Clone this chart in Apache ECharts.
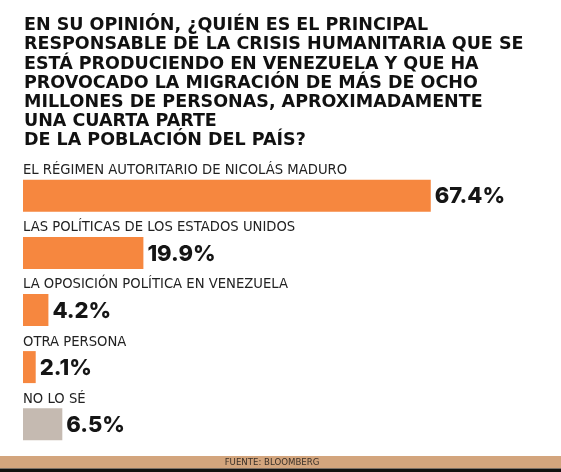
<!DOCTYPE html>
<html lang="es">
<head>
    <meta charset="UTF-8">
    <title>Responsable de la crisis humanitaria</title>
    <script type="text/javascript" src="https://cdn.jsdelivr.net/npm/echarts@6/dist/echarts.min.js"></script>
    <style>
        html, body { margin: 0; padding: 0; background: #fff; }
        #charts { width: 561px; height: 472px; }
    </style>
</head>
<body>
<div id="charts"></div>
<script>
    // datos de la encuesta
    var categorias = [
        "EL RÉGIMEN AUTORITARIO DE NICOLÁS MADURO",
        "LAS POLÍTICAS DE LOS ESTADOS UNIDOS",
        "LA OPOSICIÓN POLÍTICA EN VENEZUELA",
        "OTRA PERSONA",
        "NO LO SÉ"
    ]
    var porcentajes = [67.4, 19.9, 4.2, 2.1, 6.5]
    var titulo = [
        "EN SU OPINIÓN, ¿QUIÉN ES EL PRINCIPAL",
        "RESPONSABLE DE LA CRISIS HUMANITARIA QUE SE",
        "ESTÁ PRODUCIENDO EN VENEZUELA Y QUE HA",
        "PROVOCADO LA MIGRACIÓN DE MÁS DE OCHO",
        "MILLONES DE PERSONAS, APROXIMADAMENTE",
        "UNA CUARTA PARTE",
        "DE LA POBLACIÓN DEL PAÍS?"
    ]
    var fuente = "FUENTE: BLOOMBERG"

    var naranja = "#f6873f"
    var gris = "#c5bab1"

    var chart = echarts.init(document.getElementById("charts"), null, {renderer: 'canvas'});
    chart.setOption({
        animation: false,
        backgroundColor: "#fff",
        title: {
            text: titulo.join("\n"),
            left: 24,
            top: 16,
            padding: 0,
            textStyle: {
                fontFamily: "DejaVu Sans",
                fontWeight: "bold",
                fontSize: 17.5,
                lineHeight: 19.2,
                color: "#111"
            }
        },
        grid: {left: 23, right: 54, top: 167.25, bottom: 19.25},
        xAxis: {type: "value", min: 0, max: 80, show: false},
        yAxis: {type: "category", data: categorias, inverse: true, show: false},
        series: [
            {
                type: "bar",
                data: porcentajes,
                barWidth: 32,
                itemStyle: {
                    color: function (p) { return p.dataIndex === 4 ? gris : naranja }
                },
                label: {
                    show: true,
                    position: "right",
                    distance: 4,
                    offset: [0, 1],
                    formatter: function (p) { return p.value.toFixed(1) + "%" },
                    fontFamily: "Inter",
                    fontWeight: 800,
                    fontSize: 22,
                    color: "#151515"
                }
            },
            {
                // capa transparente para los nombres sobre cada barra
                type: "bar",
                data: porcentajes,
                barWidth: 32,
                barGap: "-100%",
                silent: true,
                itemStyle: {color: "rgba(0,0,0,0)"},
                label: {
                    show: true,
                    position: [0, -9],
                    align: "left",
                    verticalAlign: "middle",
                    formatter: function (p) { return p.name },
                    fontFamily: "DejaVu Sans",
                    fontSize: 13.2,
                    color: "#222"
                }
            }
        ],
        graphic: [
            {type: "rect", shape: {x: 0, y: 456, width: 561, height: 12.5}, style: {fill: "#d3a57d"}},
            {type: "rect", shape: {x: 0, y: 468.5, width: 561, height: 4}, style: {fill: "#111"}},
            {
                type: "text", x: 272, y: 462.3,
                style: {
                    text: fuente, align: "center", verticalAlign: "middle",
                    fontFamily: "DejaVu Sans", fontSize: 8.6, fill: "#3a3028"
                }
            }
        ]
    });
</script>
</body>
</html>
